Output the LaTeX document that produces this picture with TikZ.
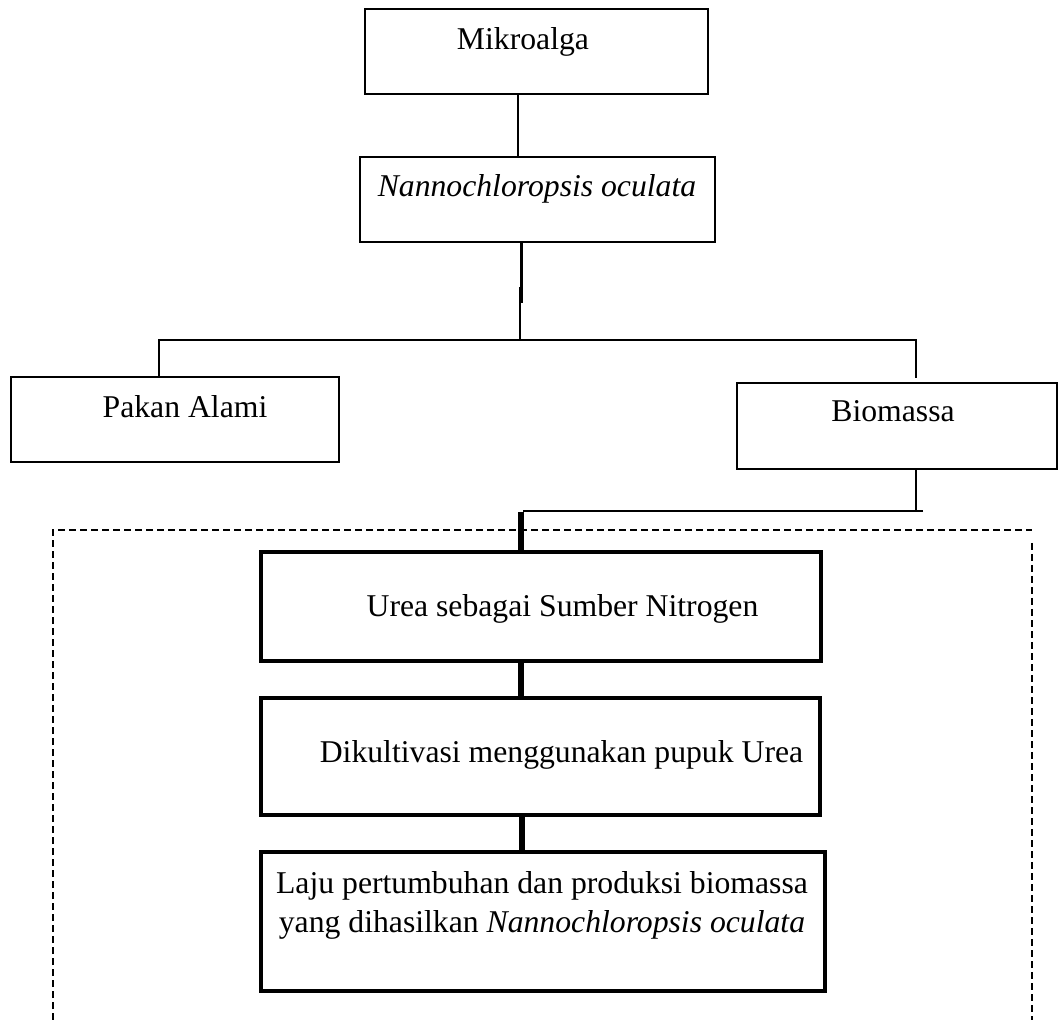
\documentclass[tikz,border=0pt]{standalone}
\usepackage{fontspec}
\setmainfont{Liberation Serif}

\begin{document}
\begin{tikzpicture}[x=0.5pt,y=-0.5pt,
    box/.style={draw,line width=1.2pt,inner sep=0pt},
    bigbox/.style={draw,line width=1.8pt,inner sep=0pt},
    txt/.style={anchor=base,inner sep=0pt,font=\fontsize{15.85pt}{19.5pt}\selectfont},
    link/.style={line width=1.2pt},
    heavy link/.style={line width=3.3pt},
    frame/.style={line width=1pt,dash pattern=on 3.5pt off 2pt}]
  \useasboundingbox (0,0) rectangle (1059,1020);

  \node[box,minimum width=171.5pt,minimum height=42.5pt] (mikro) at (536.5,51.5) {};
  \node[txt] (mikroTxt) at (523,50) {Mikroalga};
  \node[box,minimum width=177.5pt,minimum height=42.5pt] (nanno) at (537.5,199.5) {};
  \node[txt] (nannoTxt) at (537,197) {\textit{Nannochloropsis oculata}};
  \node[box,minimum width=164pt,minimum height=42.5pt] (pakan) at (175,419.5) {};
  \node[txt] (pakanTxt) at (185,418) {Pakan Alami};
  \node[box,minimum width=160pt,minimum height=43pt] (biomassa) at (897,426) {};
  \node[txt] (biomassaTxt) at (893,422) {Biomassa};

  \node[bigbox,minimum width=280pt,minimum height=54.5pt] (urea) at (541,606.5) {};
  \node[txt] (ureaTxt) at (562.5,617) {Urea sebagai Sumber Nitrogen};
  \node[bigbox,minimum width=279.5pt,minimum height=58.5pt] (kultivasi) at (540.5,756.5) {};
  \node[txt] (kultivasiTxt) at (561.5,762) {Dikultivasi menggunakan pupuk Urea};
  \node[bigbox,minimum width=282pt,minimum height=69.5pt] (laju) at (543,921.5) {};
  \node[txt,align=center] (lajuTxt) at (542,932) {Laju pertumbuhan dan produksi biomassa\\yang dihasilkan \textit{Nannochloropsis oculata}};

  \coordinate (split) at (520,340);
  \coordinate (leftTee) at (159,340);
  \coordinate (rightTee) at (916,340);
  \coordinate (joint) at (916,511);
  \coordinate (jointEnd) at (923,511);
  \coordinate (bend) at (523,511);
  \coordinate (drop) at (521,512);

  \draw[link] ([xshift=-9.25pt]mikro.south) -- ([xshift=-9.75pt]nanno.north);
  \draw[link] ([xshift=-8pt]nanno.south) -- ++(0,60);
  \draw[link] (split) -- ++(0,-53);
  \draw[link] (pakan.north -| leftTee) -- (leftTee) -- (rightTee) -- ([yshift=2pt]biomassa.north -| rightTee);
  \draw[link] (biomassa.south -| joint) -- (joint);
  \draw[link] (jointEnd) -- (bend);
  \draw[heavy link] (drop) -- ([xshift=-10pt]urea.north);
  \draw[heavy link] ([xshift=-10pt]urea.south) -- ([xshift=-9.75pt]kultivasi.north);
  \draw[heavy link] ([xshift=-9.25pt]kultivasi.south) -- ([xshift=-10.5pt]laju.north);

  \draw[frame] (53,1020) -- (53,530) -- (1032,530);
  \draw[frame] (1032,543) -- (1032,1020);
\end{tikzpicture}
\end{document}
